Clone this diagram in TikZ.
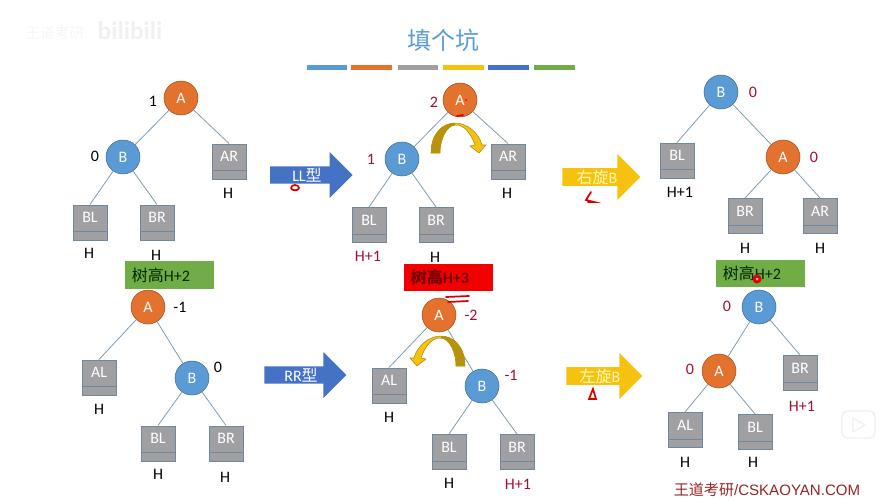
\documentclass[tikz,border=0pt]{standalone}
\usepackage{fontspec}
\setmainfont{Carlito}
\newfontfamily\cjk{Noto Sans CJK SC}
\newfontfamily\wmfont{Liberation Sans}
\usetikzlibrary{shapes.arrows}
\definecolor{acol}{HTML}{E4722F}
\definecolor{bcol}{HTML}{5B9BD5}
\definecolor{boxcol}{HTML}{A0A0A2}
\definecolor{boxline}{HTML}{6E88A0}
\definecolor{edgecol}{HTML}{7F9DB5}
\definecolor{redtxt}{HTML}{A01030}
\definecolor{arrblue}{HTML}{4472C4}
\definecolor{arryel}{HTML}{F7C20F}
\definecolor{grnbox}{HTML}{70AD47}
\tikzset{
  anode/.style={circle,draw=acol!70!black,fill=acol,text=white,inner sep=0pt,minimum size=25.5pt,font=\fontsize{12}{14}\selectfont},
  bnode/.style={anode,draw=bcol!70!black,fill=bcol},
  subtree/.style={rectangle,draw=boxline,fill=boxcol,text=white,inner sep=0pt,minimum width=25.5pt,minimum height=26.6pt,
    text height=8pt,text depth=8pt,font=\fontsize{12}{14}\selectfont,
    path picture={\draw[boxline] ([yshift=6.6pt]path picture bounding box.south west) -- ([yshift=6.6pt]path picture bounding box.south east);}},
  lab/.style={inner sep=0pt,font=\fontsize{12}{14}\selectfont},
  redlab/.style={lab,text=redtxt},
  treeline/.style={edgecol,line width=0.6pt},
  blockarrow/.style={single arrow,single arrow head extend=9pt,inner sep=0pt,minimum width=34.5pt,text=white,font=\fontsize{12}{14}\selectfont},
  heightbox/.style={rectangle,inner sep=0pt,inner xsep=5pt,text width=56.5pt,align=left,minimum height=20.5pt,text=green!15!black,font=\fontsize{12}{14}\selectfont},
  penmark/.style={red!85!black,line width=1.3pt,line cap=round}
}
\newcommand{\rotarrow}{
\filldraw[draw=arryel!70!black,fill=arryel,line width=0.4pt] (431,153) .. controls (431,133) and (443,123) .. (455,123) .. controls (467,123) and (479,133) .. (482,145) -- (486,145) -- (479,153) -- (470,146) -- (475,145) .. controls (472,136) and (465,124) .. (455,125) .. controls (446,126) and (440,140) .. (440,153) -- cycle;
\fill[arryel!75!black] (431,153) .. controls (431,133) and (443,123) .. (455,123) -- (455,125) .. controls (446,126) and (440,140) .. (440,153) -- cycle;
}
\begin{document}
\begin{tikzpicture}[x=0.75pt,y=-0.75pt]
\useasboundingbox (0,0) rectangle (895,500);
% watermarks
\node[inner sep=0pt,text=black!4,font=\cjk\fontsize{11}{13}\selectfont] (wmname) at (55,33) {王道考研};
\node[inner sep=0pt,text=black!6,font=\bfseries\fontsize{19}{21}\selectfont] (wmlogo) at (130,31) {bilibili};
\draw[black!6,line width=1pt,rounded corners=4pt] (842,411) rectangle (875,438);
\draw[black!6,line width=1pt] (853,418) -- (865,425) -- (853,432) -- cycle;
% title
\node[inner sep=0pt,text=bcol,font=\cjk\fontsize{18}{20}\selectfont] (title) at (443,40) {填个坑};
\fill[bcol] (307,65) rectangle (347,70);
\fill[acol] (351,65) rectangle (392,70);
\fill[boxcol] (398,65) rectangle (438,70);
\fill[arryel] (443,65) rectangle (484,70);
\fill[arrblue] (488,65) rectangle (529,70);
\fill[grnbox] (534,65) rectangle (575,70);
% LL before
\node[anode] (A1) at (181,98) {A};
\node[bnode] (B1) at (123,157) {B};
\node[subtree] (AR1) at (229,161.5) {AR};
\node[subtree] (BL1) at (90,222.5) {BL};
\node[subtree] (BR1) at (157,222.5) {BR};
\draw[treeline] (A1) -- (B1);
\draw[treeline] (A1) -- (AR1.north);
\draw[treeline] (B1) -- (BL1.north);
\draw[treeline] (B1) -- (BR1.north);
\node[lab] (bf1) at (153,101) {1};
\node[lab] (bf2) at (95,156) {0};
\node[lab] (h1) at (228,193) {H};
\node[lab] (h2) at (89,253) {H};
\node[lab] (h3) at (156,255) {H};
% LL middle
\node[anode] (A2) at (460,100) {A};
\node[bnode] (B2) at (402,159) {B};
\node[subtree] (AR2) at (508,161.5) {AR};
\node[subtree] (BL2) at (369,225) {BL};
\node[subtree] (BR2) at (436,225) {BR};
\draw[treeline] (A2) -- (B2);
\draw[treeline] (A2) -- (AR2.north);
\draw[treeline] (B2) -- (BL2.north);
\draw[treeline] (B2) -- (BR2.north);
\rotarrow
\node[redlab] (bf3) at (434,102) {2};
\node[redlab] (bf4) at (371,159) {1};
\node[lab] (h4) at (507,193) {H};
\node[redlab] (h5) at (368,256) {H+1};
\node[lab] (h6) at (435,257) {H};
% LL after
\node[bnode] (B3) at (721,92) {B};
\node[anode] (A3) at (783,157) {A};
\node[subtree] (BL3) at (677,160.5) {BL};
\node[subtree] (BR3) at (745,216) {BR};
\node[subtree] (AR3) at (820,216) {AR};
\draw[treeline] (B3) -- (BL3.north);
\draw[treeline] (B3) -- (A3);
\draw[treeline] (A3) -- (BR3.north);
\draw[treeline] (A3) -- (AR3.north);
\node[redlab] (bf5) at (753,92) {0};
\node[redlab] (bf6) at (814,157) {0};
\node[lab] (h7) at (680,192) {H+1};
\node[lab] (h8) at (745,248) {H};
\node[lab] (h9) at (820,248) {H};
% RR before
\node[heightbox,fill=grnbox] (tree1) at (169.5,275) {{\cjk 树高}H+2};
\node[anode] (A4) at (148,307) {A};
\node[bnode] (B4) at (192,378) {B};
\node[subtree] (AL4) at (99,377.5) {AL};
\node[subtree] (BL4) at (158,443.5) {BL};
\node[subtree] (BR4) at (226,443.5) {BR};
\draw[treeline] (A4) -- (AL4.north);
\draw[treeline] (A4) -- (B4);
\draw[treeline] (B4) -- (BL4.north);
\draw[treeline] (B4) -- (BR4.north);
\node[lab] (bf7) at (180,307) {-1};
\node[lab] (bf8) at (218,367) {0};
\node[lab] (h10) at (99,409) {H};
\node[lab] (h11) at (158,474) {H};
\node[lab] (h12) at (225,477) {H};
% RR middle
\node[heightbox,fill=red!95!black,text=red!45!black,font=\bfseries\fontsize{12}{14}\selectfont] (tree2) at (448.5,277.5) {{\cjk 树高}H+3};
\node[anode] (A5) at (439,315) {A};
\node[bnode] (B5) at (482,386) {B};
\node[subtree] (AL5) at (389,385.5) {AL};
\node[subtree] (BL5) at (449,452) {BL};
\node[subtree] (BR5) at (517,452) {BR};
\draw[treeline] (A5) -- (AL5.north);
\draw[treeline] (A5) -- (B5);
\draw[treeline] (B5) -- (BL5.north);
\draw[treeline] (B5) -- (BR5.north);
\begin{scope}[shift={(896,213)},xscale=-1]
\rotarrow
\end{scope}
\node[redlab] (bf9) at (471,315) {-2};
\node[redlab] (bf10) at (511,375) {-1};
\node[lab] (h13) at (389,417) {H};
\node[lab] (h14) at (449,483) {H};
\node[redlab] (h15) at (518,484) {H+1};
% RR after
\node[heightbox,fill=grnbox] (tree3) at (760.5,273.5) {{\cjk 树高}H+2};
\node[bnode] (B6) at (759,307) {B};
\node[anode] (A6) at (719,371) {A};
\node[subtree] (BR6) at (800,373) {BR};
\node[subtree] (AL6) at (685,430) {AL};
\node[subtree] (BL6) at (755,432) {BL};
\draw[treeline] (B6) -- (A6);
\draw[treeline] (B6) -- (BR6.north);
\draw[treeline] (A6) -- (AL6.north);
\draw[treeline] (A6) -- (BL6.north);
\node[redlab] (bf11) at (727,306) {0};
\node[redlab] (bf12) at (690,369) {0};
\node[redlab] (h16) at (802,406) {H+1};
\node[lab] (h17) at (685,462) {H};
\node[lab] (h18) at (753,462) {H};
% block arrows
\node[blockarrow,fill=arrblue,minimum height=62pt] (ll) at (307,175) {LL{\cjk 型}\hspace{3pt}};
\node[blockarrow,fill=arryel,text=yellow!30,minimum height=58.5pt] (rightturn) at (597,177) {{\cjk 右旋}B\hspace{3pt}};
\node[blockarrow,fill=arrblue,minimum height=61.5pt] (rr) at (301,375) {RR{\cjk 型}\hspace{4.5pt}};
\node[blockarrow,fill=arryel,text=yellow!30,minimum height=57pt] (leftturn) at (600,376) {{\cjk 左旋}B\hspace{3pt}};
% pen marks
\draw[penmark] (291,188) .. controls (291,184) and (299,184) .. (299,188) .. controls (299,191) and (291,191) .. (291,188);
\draw[penmark] (591,192) -- (586,200) -- (594,202) -- (588,202);
\draw[penmark] (593,389) -- (589,399) -- (596,399) -- cycle;
\draw[penmark] (446,297) -- (469,296);
\draw[penmark] (448,302) -- (468,301);
\draw[penmark] (457,116) -- (463,115);
\fill[red] (466,100) circle (1);
\fill[red!90!black] (757,279) circle (4.5);
\fill[red!30] (757,279) circle (1.5);
\node[inner sep=0pt,text=red!50!black!85,font=\fontsize{11.3}{13}\selectfont] (site) at (767,490) {{\cjk 王道考研}{\wmfont /CSKAOYAN.COM}};
\end{tikzpicture}
\end{document}
